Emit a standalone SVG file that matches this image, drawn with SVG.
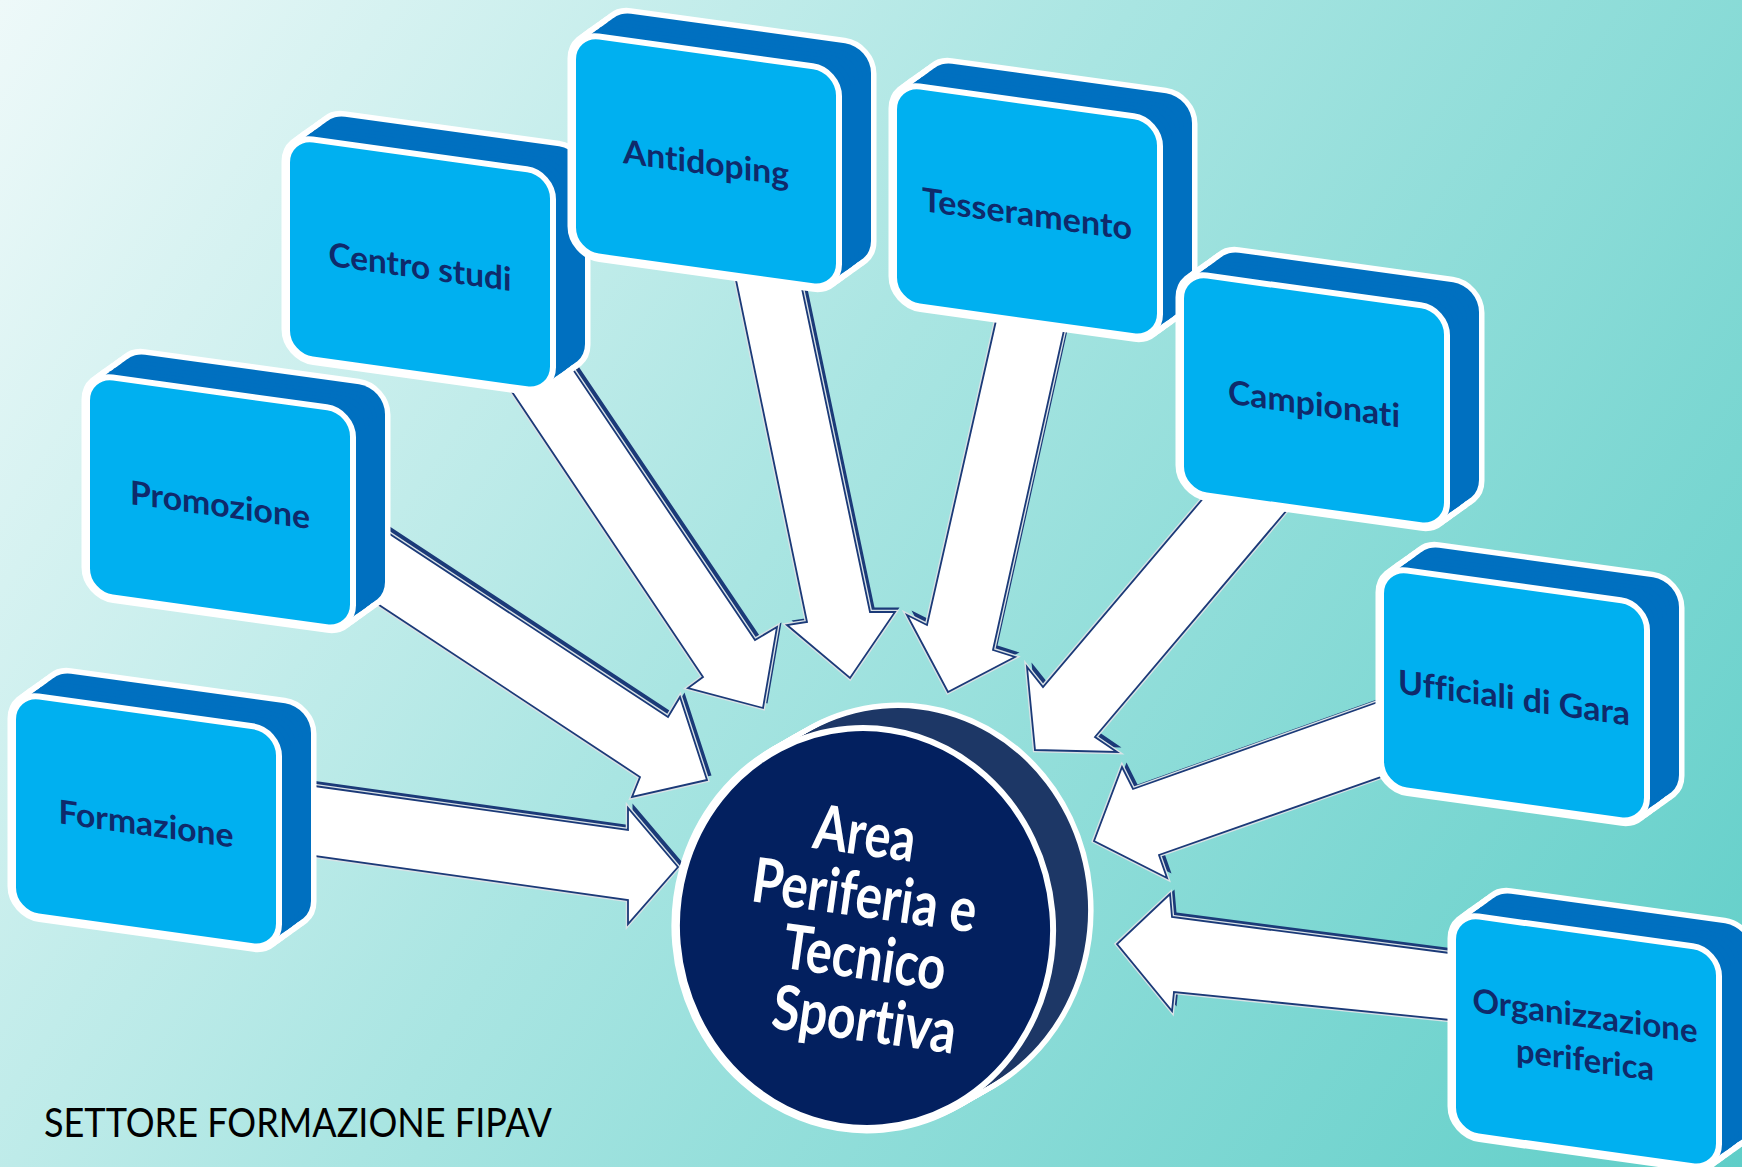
<svg xmlns="http://www.w3.org/2000/svg" width="1742" height="1167" viewBox="0 0 1742 1167">
<defs>
  <linearGradient id="bg" x1="0" y1="0" x2="1742" y2="1167" gradientUnits="userSpaceOnUse">
    <stop offset="0" stop-color="#eef9f9"/>
    <stop offset="0.45" stop-color="#a9e5e2"/>
    <stop offset="1" stop-color="#5fcec8"/>
  </linearGradient>
  <linearGradient id="cside" x1="880" y1="700" x2="1100" y2="1000" gradientUnits="userSpaceOnUse">
    <stop offset="0" stop-color="#1d3766"/>
    <stop offset="0.3" stop-color="#2f4f82"/>
    <stop offset="0.5" stop-color="#1e3969"/>
    <stop offset="0.7" stop-color="#34558a"/>
    <stop offset="1" stop-color="#1d3766"/>
  </linearGradient>
  <rect id="face" width="266" height="220" rx="26"/>
  <g id="ext">
    <use href="#face" x="32" y="-27.4"/>
    <use href="#face" x="28" y="-24"/>
    <use href="#face" x="24" y="-20.6"/>
    <use href="#face" x="20" y="-17.1"/>
    <use href="#face" x="16" y="-13.7"/>
    <use href="#face" x="12" y="-10.3"/>
    <use href="#face" x="8" y="-6.9"/>
    <use href="#face" x="4" y="-3.4"/>
    <use href="#face" x="0" y="0"/>
  </g>
  <ellipse id="disc" rx="188" ry="200" transform="rotate(-5)"/>
  <g id="cext">
    <use href="#disc" x="900" y="908"/>
    <use href="#disc" x="896.5" y="910"/>
    <use href="#disc" x="893" y="912"/>
    <use href="#disc" x="889.5" y="914"/>
    <use href="#disc" x="886" y="916"/>
    <use href="#disc" x="882.5" y="918"/>
    <use href="#disc" x="879" y="920"/>
    <use href="#disc" x="875.5" y="922"/>
    <use href="#disc" x="872" y="924"/>
    <use href="#disc" x="868.5" y="926"/>
    <use href="#disc" x="865" y="928"/>
  </g>
  <polygon id="a1" points="300,784 628,830 628,808 678,867 628,924 628,900 300,854"/>
  <polygon id="a2" points="370,521 668,717 680,697 707,780 632,797 640,777 370,599"/>
  <polygon id="a3" points="506,383 703,677 688,688 763,708 777,627 755,640 566,359"/>
  <polygon id="a4" points="733.5,268 807,622 787,625 850,678 895,612 870,612 800,279"/>
  <polygon id="a5" points="998.4,310 927,625 907,615 948,692 1015,657 993,650 1066.5,319"/>
  <polygon id="a6" points="1215.7,483.5 1043,687 1027,667 1035,750 1117,752 1095,737 1298,497"/>
  <polygon id="a7" points="1395,696 1133,789 1122,767 1094,841 1167,878 1159,855 1395,772"/>
  <polygon id="a8" points="1465,955 1172,917 1170,894 1117,944 1172,1011 1174,992 1465,1021.5"/>
</defs>
<style>
  text { font-variant-ligatures: none; font-feature-settings: "liga" 0, "clig" 0; }
  .rim { fill:#fff; stroke:#fff; stroke-width:11; stroke-linejoin:round; }
  .side { fill:#0070c0; stroke:none; }
  .front { fill:#00b0f0; stroke:#fff; stroke-width:6; }
  .lbl { font-family: Lato, "Open Sans", "Liberation Sans", sans-serif; font-weight:700; font-size:33px; fill:#0f2a6b; text-anchor:middle; }
  .adepth { fill:#1b3a78; stroke:none; }
  .ahalo { fill:none; stroke:#d9e2e6; stroke-width:4.5; stroke-linejoin:miter; }
  .abody { fill:#fff; stroke:#1b3a78; stroke-width:1.8; stroke-linejoin:miter; }
  .crim { fill:#fff; stroke:#fff; stroke-width:11; }
  .cside { fill:url(#cside); stroke:none; }
  .cfront { fill:#03205f; stroke:#fff; stroke-width:6; }
  .ctext { font-family: Lato, "Open Sans", "Liberation Sans", sans-serif; font-weight:700; font-size:62px; fill:#fff; text-anchor:middle; }
  .foot { font-family: Lato, "Open Sans", "Liberation Sans", sans-serif; font-size:40px; fill:#000; }
</style>
<rect width="1742" height="1167" fill="url(#bg)"/>

<g id="connectors">
  <g id="arrow-formazione"><use href="#a1" class="adepth" transform="translate(4.5,-4.5)"/><use href="#a1" class="ahalo"/><use href="#a1" class="abody"/></g>
  <g id="arrow-promozione"><use href="#a2" class="adepth" transform="translate(4.5,-4.5)"/><use href="#a2" class="ahalo"/><use href="#a2" class="abody"/></g>
  <g id="arrow-centro-studi"><use href="#a3" class="adepth" transform="translate(4.5,-4.5)"/><use href="#a3" class="ahalo"/><use href="#a3" class="abody"/></g>
  <g id="arrow-antidoping"><use href="#a4" class="adepth" transform="translate(4.5,-4.5)"/><use href="#a4" class="ahalo"/><use href="#a4" class="abody"/></g>
  <g id="arrow-tesseramento"><use href="#a5" class="adepth" transform="translate(4.5,-4.5)"/><use href="#a5" class="ahalo"/><use href="#a5" class="abody"/></g>
  <g id="arrow-campionati"><use href="#a6" class="adepth" transform="translate(4.5,-4.5)"/><use href="#a6" class="ahalo"/><use href="#a6" class="abody"/></g>
  <g id="arrow-ufficiali"><use href="#a7" class="adepth" transform="translate(4.5,-4.5)"/><use href="#a7" class="ahalo"/><use href="#a7" class="abody"/></g>
  <g id="arrow-organizzazione"><use href="#a8" class="adepth" transform="translate(4.5,-4.5)"/><use href="#a8" class="ahalo"/><use href="#a8" class="abody"/></g>
</g>

<g id="node-center">
  <use href="#cext" class="crim"/>
  <use href="#cext" class="cside"/>
  <use href="#disc" x="865" y="928" class="cfront"/>
  <text class="ctext" x="864" y="855" transform="rotate(8 864 840)" textLength="102" lengthAdjust="spacingAndGlyphs">Area</text>
  <text class="ctext" x="864" y="917" transform="rotate(8 864 900)" textLength="226" lengthAdjust="spacingAndGlyphs">Periferia e</text>
  <text class="ctext" x="864" y="979" transform="rotate(8 864 962)" textLength="164" lengthAdjust="spacingAndGlyphs">Tecnico</text>
  <text class="ctext" x="864" y="1041" transform="rotate(8 864 1024)" textLength="185" lengthAdjust="spacingAndGlyphs">Sportiva</text>
</g>

<g id="node-formazione" transform="translate(13,693) skewY(7.9)">
  <use href="#ext" class="rim"/><use href="#ext" class="side"/><use href="#face" class="front"/>
  <text class="lbl" x="133" y="124" textLength="175" lengthAdjust="spacingAndGlyphs">Formazione</text>
</g>
<g id="node-promozione" transform="translate(87,374) skewY(7.9)">
  <use href="#ext" class="rim"/><use href="#ext" class="side"/><use href="#face" class="front"/>
  <text class="lbl" x="133" y="124" textLength="180" lengthAdjust="spacingAndGlyphs">Promozione</text>
</g>
<g id="node-centro-studi" transform="translate(287,136) skewY(7.9)">
  <use href="#ext" class="rim"/><use href="#ext" class="side"/><use href="#face" class="front"/>
  <text class="lbl" x="133" y="124" textLength="183" lengthAdjust="spacingAndGlyphs">Centro studi</text>
</g>
<g id="node-antidoping" transform="translate(573,33) skewY(7.9)">
  <use href="#ext" class="rim"/><use href="#ext" class="side"/><use href="#face" class="front"/>
  <text class="lbl" x="133" y="123" textLength="166" lengthAdjust="spacingAndGlyphs">Antidoping</text>
</g>
<g id="node-tesseramento" transform="translate(894,83) skewY(7.9)">
  <use href="#ext" class="rim"/><use href="#ext" class="side"/><use href="#face" class="front"/>
  <text class="lbl" x="133" y="124" textLength="210" lengthAdjust="spacingAndGlyphs">Tesseramento</text>
</g>
<g id="node-campionati" transform="translate(1181,272) skewY(7.9)">
  <use href="#ext" class="rim"/><use href="#ext" class="side"/><use href="#face" class="front"/>
  <text class="lbl" x="133" y="125" textLength="172" lengthAdjust="spacingAndGlyphs">Campionati</text>
</g>
<g id="node-ufficiali" transform="translate(1381,567) skewY(7.9)">
  <use href="#ext" class="rim"/><use href="#ext" class="side"/><use href="#face" class="front"/>
  <text class="lbl" x="133" y="124" textLength="232" lengthAdjust="spacingAndGlyphs">Ufficiali di Gara</text>
</g>
<g id="node-organizzazione" transform="translate(1453,913) skewY(7.9)">
  <use href="#ext" class="rim"/><use href="#ext" class="side"/><use href="#face" class="front"/>
  <text class="lbl" x="132" y="96" textLength="225" lengthAdjust="spacingAndGlyphs">Organizzazione</text>
  <text class="lbl" x="132" y="140" textLength="138" lengthAdjust="spacingAndGlyphs">periferica</text>
</g>

<text class="foot" x="44" y="1137" textLength="508" lengthAdjust="spacingAndGlyphs">SETTORE FORMAZIONE FIPAV</text>
</svg>
